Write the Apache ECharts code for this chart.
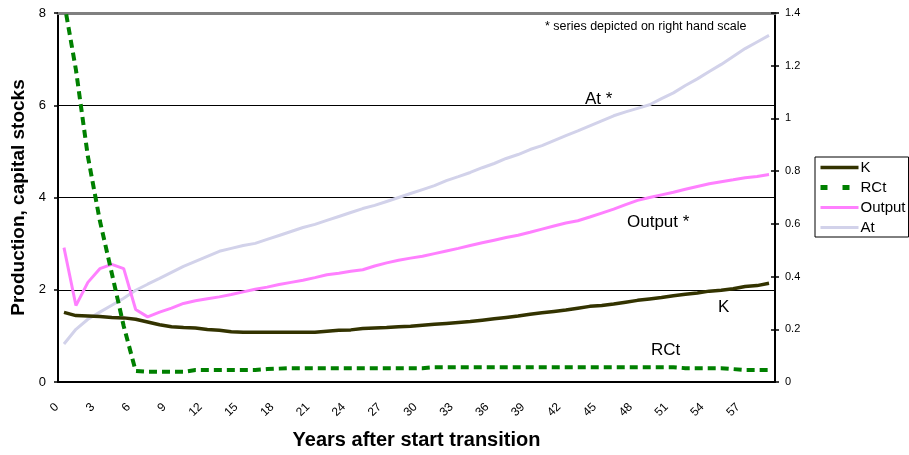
<!DOCTYPE html>
<html><head><meta charset="utf-8">
<script src="https://cdn.jsdelivr.net/npm/echarts@6/dist/echarts.min.js"></script>
<style>html,body{margin:0;padding:0;background:#fff}#c{width:909px;height:455px}</style>
</head><body><div id="c"></div>
<script>
var years = [];
for (var y = 0; y < 60; y++) years.push(String(y));

var K = [1.51,1.44,1.43,1.42,1.40,1.39,1.36,1.30,1.24,1.20,
         1.18,1.17,1.14,1.12,1.09,1.08,1.08,1.08,1.08,1.08,
         1.08,1.08,1.10,1.12,1.13,1.16,1.17,1.18,1.20,1.21,
         1.23,1.25,1.27,1.29,1.31,1.34,1.37,1.40,1.43,1.47,
         1.50,1.53,1.56,1.60,1.64,1.66,1.69,1.73,1.77,1.80,
         1.83,1.87,1.90,1.93,1.97,1.99,2.02,2.07,2.09,2.14];

var RCt = [8.25,6.77,4.89,3.50,2.36,1.21,0.24,0.22,0.22,0.22,
           0.22,0.26,0.26,0.26,0.26,0.26,0.26,0.28,0.29,0.30,
           0.30,0.30,0.30,0.30,0.30,0.30,0.30,0.30,0.30,0.30,
           0.30,0.32,0.32,0.32,0.32,0.32,0.32,0.32,0.32,0.32,
           0.32,0.32,0.32,0.32,0.32,0.32,0.32,0.32,0.32,0.32,
           0.32,0.32,0.30,0.30,0.30,0.30,0.28,0.26,0.26,0.26];

var Output = [0.51,0.29,0.378,0.43,0.446,0.43,0.275,0.247,0.265,0.28,
              0.298,0.308,0.316,0.323,0.332,0.342,0.352,0.36,0.37,0.378,
              0.386,0.396,0.407,0.413,0.42,0.426,0.44,0.452,0.462,0.47,
              0.477,0.487,0.497,0.507,0.518,0.528,0.538,0.548,0.557,0.568,
              0.58,0.592,0.603,0.612,0.626,0.641,0.656,0.673,0.689,0.70,
              0.71,0.72,0.731,0.742,0.752,0.76,0.767,0.775,0.78,0.787];

var At = [0.144,0.20,0.238,0.265,0.291,0.318,0.348,0.371,0.393,0.416,
          0.439,0.458,0.477,0.496,0.507,0.518,0.526,0.541,0.556,0.571,
          0.586,0.598,0.613,0.628,0.643,0.658,0.67,0.685,0.70,0.715,
          0.73,0.745,0.764,0.779,0.795,0.813,0.829,0.848,0.863,0.882,
          0.897,0.916,0.935,0.953,0.972,0.991,1.01,1.025,1.038,1.052,
          1.075,1.097,1.125,1.15,1.178,1.205,1.235,1.265,1.29,1.315];

var leftTicks = {min: 0, max: 8, interval: 2};
var rightTicks = {min: 0, max: 1.4, interval: 0.2};

var FONT = 'Liberation Sans, Arial, sans-serif';
var chart = echarts.init(document.getElementById('c'), null, {renderer: 'canvas'});
chart.setOption({
  animation: false,
  textStyle: {fontFamily: FONT, color: '#000'},
  grid: {left: 58, right: 134, top: 13, bottom: 72, containLabel: false},
  legend: {
    orient: 'vertical', left: 815, top: 157,
    data: [
      {name: 'K'},
      {name: 'RCt', lineStyle: {type: [7, 15], width: 5}},
      {name: 'Output'},
      {name: 'At'}
    ],
    borderColor: '#000', borderWidth: 1, borderRadius: 0,
    padding: [3, 3, 2, 3], itemGap: 5, itemWidth: 38, itemHeight: 15,
    lineStyle: {width: 'inherit'},
    itemStyle: {color: 'rgba(0,0,0,0)', borderWidth: 0, opacity: 0},
    textStyle: {fontFamily: FONT, fontSize: 15, color: '#000', padding: [0,0,0,-3]}
  },
  xAxis: [{
    type: 'category', data: years, boundaryGap: true,
    axisLine: {lineStyle: {color: '#000', width: 2}},
    axisTick: {interval: 0, length: 6, lineStyle: {color: '#000', width: 1.5}},
    axisLabel: {interval: 2, rotate: 45, fontSize: 12, color: '#000', margin: 16, padding: [0, 10, 0, 0], fontFamily: FONT},
    name: 'Years after start transition', nameLocation: 'middle', nameGap: 48,
    nameTextStyle: {fontSize: 20, fontWeight: 'bold', fontFamily: FONT, color: '#000'},
    splitLine: {show: false}
  }, {
    type: 'category', data: years, position: 'top',
    axisLine: {onZero: false, lineStyle: {color: '#808080', width: 3}},
    axisTick: {show: false}, axisLabel: {show: false}, splitLine: {show: false}
  }],
  yAxis: [{
    type: 'value', position: 'left', min: leftTicks.min, max: leftTicks.max, interval: leftTicks.interval,
    axisLine: {show: true, lineStyle: {color: '#000', width: 2}},
    axisTick: {show: true, length: 4, lineStyle: {color: '#000', width: 1.5}},
    axisLabel: {fontSize: 13, color: '#000', margin: 12, fontFamily: FONT},
    splitLine: {show: true, lineStyle: {color: ['rgba(0,0,0,0)', '#000', '#000', '#000', 'rgba(0,0,0,0)'], width: 1.2}},
    name: 'Production, capital stocks', nameLocation: 'middle', nameGap: 30,
    nameTextStyle: {fontSize: 19, fontWeight: 'bold', fontFamily: FONT, color: '#000'}
  }, {
    type: 'value', position: 'right', min: rightTicks.min, max: rightTicks.max, interval: rightTicks.interval,
    axisLine: {show: true, lineStyle: {color: '#000', width: 2}},
    axisTick: {show: true, length: 4, lineStyle: {color: '#000', width: 1.5}},
    axisLabel: {fontSize: 11, color: '#000', margin: 10, fontFamily: FONT},
    splitLine: {show: false}
  }, {
    type: 'value', position: 'right', min: rightTicks.min, max: rightTicks.max, interval: rightTicks.interval,
    axisLine: {show: false},
    axisTick: {show: true, inside: true, length: 4, lineStyle: {color: '#000', width: 1.5}},
    axisLabel: {show: false}, splitLine: {show: false}
  }],
  series: [{
    name: 'At', type: 'line', yAxisIndex: 1, data: At, symbol: 'none',
    lineStyle: {color: '#D2D2EA', width: 3}, itemStyle: {color: '#D2D2EA'}, z: 2
  }, {
    name: 'Output', type: 'line', yAxisIndex: 1, data: Output, symbol: 'none',
    lineStyle: {color: '#FF80FF', width: 3}, itemStyle: {color: '#FF80FF'}, z: 3
  }, {
    name: 'K', type: 'line', yAxisIndex: 0, data: K, symbol: 'none',
    lineStyle: {color: '#333300', width: 3.5}, itemStyle: {color: '#333300'}, z: 4
  }, {
    name: 'RCt', type: 'line', yAxisIndex: 0, data: RCt, symbol: 'none', clip: true,
    lineStyle: {color: '#008000', width: 4, type: [8, 5]}, itemStyle: {color: '#008000'}, z: 5
  }],
  graphic: [
    {type: 'text', left: 545, top: 20, style: {text: '* series depicted on right hand scale', font: '12.5px ' + FONT, fill: '#000'}},
    {type: 'text', left: 585, top: 91, style: {text: 'At *', font: '17px ' + FONT, fill: '#000'}},
    {type: 'text', left: 627, top: 214, style: {text: 'Output *', font: '17px ' + FONT, fill: '#000'}},
    {type: 'text', left: 718, top: 299, style: {text: 'K', font: '17px ' + FONT, fill: '#000'}},
    {type: 'text', left: 651, top: 342, style: {text: 'RCt', font: '17px ' + FONT, fill: '#000'}}
  ]
});
</script></body></html>
